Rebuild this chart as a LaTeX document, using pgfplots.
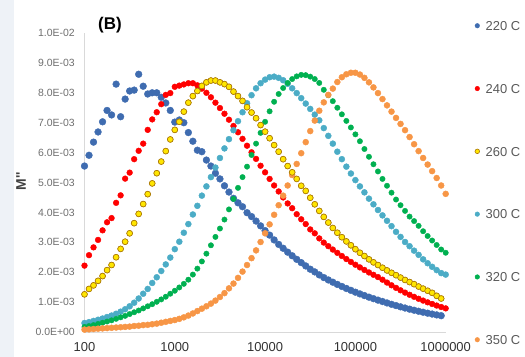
\documentclass[border=0pt]{standalone}
\usepackage{pgfplots}
\pgfplotsset{compat=1.18}
\usepackage{pgfplotstable}
\usepackage{fontspec}
\setmainfont{Liberation Sans}
\definecolor{cB}{RGB}{63,108,176}
\definecolor{cR}{RGB}{255,0,0}
\definecolor{cY}{RGB}{255,230,0}
\definecolor{cYe}{RGB}{170,120,10}
\definecolor{cL}{RGB}{75,172,198}
\definecolor{cG}{RGB}{0,176,80}
\definecolor{cO}{RGB}{247,150,70}
\definecolor{axc}{RGB}{217,217,217}
\definecolor{ylabc}{RGB}{110,110,110}
\definecolor{xlabc}{RGB}{50,50,50}
\definecolor{legc}{RGB}{89,89,89}
\definecolor{stripc}{RGB}{238,242,247}
% values of M'' in units of 1E-03
\pgfplotstableread{
f b r y lb g o
100 5.55 2.22 1.26 0.30 0.17 0.08
112.2 5.91 2.57 1.44 0.33 0.20 0.09
125.9 6.35 2.83 1.56 0.37 0.23 0.10
141.3 6.69 3.08 1.71 0.41 0.27 0.11
158.5 7.03 3.40 1.87 0.45 0.31 0.12
177.8 7.41 3.67 2.07 0.50 0.35 0.13
199.5 7.26 3.81 2.24 0.55 0.39 0.14
223.9 8.29 4.32 2.50 0.61 0.44 0.15
251.2 7.20 4.57 2.78 0.68 0.49 0.16
281.8 7.79 5.13 3.02 0.76 0.54 0.17
316.2 8.06 5.33 3.30 0.86 0.60 0.18
354.8 8.09 5.78 3.64 0.98 0.66 0.20
398.1 8.62 6.06 3.95 1.12 0.72 0.21
446.7 8.22 6.30 4.28 1.28 0.79 0.23
501.2 7.96 6.76 4.61 1.44 0.86 0.24
562.3 8.00 7.11 4.97 1.64 0.93 0.26
631 8.00 7.35 5.31 1.83 1.01 0.28
707.9 7.85 7.62 5.70 2.04 1.09 0.31
794.3 7.66 7.93 6.05 2.26 1.18 0.34
891.3 7.41 7.99 6.44 2.49 1.28 0.37
1000 7.02 8.20 6.76 2.77 1.38 0.40
1122 7.09 8.24 7.03 3.02 1.49 0.44
1259 7.00 8.28 7.37 3.32 1.61 0.49
1413 6.67 8.32 7.67 3.61 1.75 0.55
1585 6.38 8.32 7.89 3.93 1.92 0.62
1778 6.08 8.25 8.06 4.22 2.12 0.70
1995 6.03 8.14 8.23 4.56 2.36 0.78
2239 5.75 8.00 8.35 4.87 2.62 0.86
2512 5.55 7.85 8.41 5.18 2.90 0.95
2818 5.31 7.67 8.41 5.50 3.18 1.05
3162 5.12 7.49 8.35 5.82 3.46 1.17
3548 4.89 7.30 8.29 6.14 3.76 1.30
3981 4.68 7.10 8.20 6.45 4.10 1.46
4467 4.47 6.89 8.04 6.75 4.45 1.62
5012 4.32 6.68 7.89 7.05 4.82 1.81
5623 4.19 6.46 7.73 7.35 5.18 2.02
6310 3.99 6.23 7.52 7.65 5.53 2.24
7079 3.86 6.01 7.34 7.92 5.92 2.47
7943 3.71 5.79 7.15 8.15 6.30 2.73
8913 3.55 5.56 6.92 8.32 6.66 3.01
10000 3.39 5.34 6.70 8.44 7.03 3.30
11220 3.24 5.12 6.48 8.52 7.38 3.60
12590 3.08 4.90 6.25 8.54 7.70 3.92
14130 2.93 4.70 6.03 8.50 7.96 4.24
15850 2.80 4.50 5.78 8.42 8.16 4.56
17780 2.67 4.30 5.55 8.30 8.33 4.90
19950 2.55 4.14 5.34 8.15 8.46 5.25
22390 2.43 3.94 5.12 7.99 8.55 5.62
25120 2.32 3.77 4.89 7.82 8.60 5.98
28180 2.21 3.61 4.72 7.64 8.59 6.35
31620 2.10 3.43 4.49 7.46 8.54 6.72
35480 2.01 3.30 4.27 7.27 8.46 7.07
39810 1.91 3.13 4.05 7.08 8.33 7.40
44670 1.82 2.99 3.85 6.82 8.10 7.68
50120 1.741 2.871 3.66 6.56 7.92 7.93
56230 1.665 2.757 3.48 6.30 7.72 8.14
63100 1.592 2.647 3.32 6.03 7.50 8.36
70790 1.523 2.542 3.17 5.78 7.28 8.52
79430 1.456 2.441 3.03 5.53 7.06 8.62
89130 1.393 2.344 2.90 5.30 6.84 8.67
100000 1.332 2.250 2.77 5.08 6.61 8.67
112200 1.274 2.161 2.65 4.87 6.38 8.61
125900 1.219 2.075 2.54 4.67 6.12 8.50
141300 1.165 1.992 2.43 4.46 5.86 8.35
158500 1.115 1.913 2.33 4.27 5.61 8.18
177800 1.066 1.837 2.24 4.08 5.37 7.99
199500 1.020 1.750 2.15 3.90 5.12 7.79
223900 0.972 1.653 2.06 3.72 4.89 7.58
251200 0.926 1.562 1.98 3.54 4.66 7.37
281800 0.883 1.476 1.90 3.35 4.43 7.16
316200 0.841 1.394 1.82 3.18 4.24 6.96
354800 0.802 1.317 1.74 3.01 4.05 6.75
398100 0.764 1.245 1.67 2.87 3.86 6.52
446700 0.728 1.176 1.60 2.72 3.71 6.28
501200 0.694 1.111 1.52 2.58 3.55 6.05
562300 0.661 1.050 1.45 2.43 3.37 5.82
631000 0.630 0.992 1.38 2.30 3.21 5.60
707900 0.600 0.937 1.31 2.18 3.06 5.38
794300 0.572 0.885 1.21 2.07 2.91 5.15
891300 0.545 0.836 1.12 1.97 2.76 4.90
1000000 nan 0.790 nan 1.92 2.65 4.62
}\datatable

\begin{document}
\begin{tikzpicture}
\useasboundingbox (0,0) rectangle (525bp,357bp);
\fill[stripc] (0,0) rectangle (14bp,357bp);
\begin{axis}[
  at={(84.5bp,25bp)}, anchor=south west,
  scale only axis, width=361.2bp, height=299bp,
  xmode=log, xmin=100, xmax=1000000, ymin=0, ymax=10,
  axis lines=left, axis line style={-, draw=axc, line width=0.8bp},
  xtick={100,1000,10000,100000,1000000},
  xticklabels={100,1000,10000,100000,1000000},
  ytick={0,1,2,3,4,5,6,7,8,9,10},
  yticklabels={0.0E+00,1.0E-03,2.0E-03,3.0E-03,4.0E-03,5.0E-03,6.0E-03,7.0E-03,8.0E-03,9.0E-03,1.0E-02},
  xminorticks=false, yminorticks=false,
  major tick length=0pt, tick style={draw=none},
  xticklabel style={font=\fontsize{13}{13}\selectfont, text=xlabc, inner sep=0pt, anchor=north, yshift=-10.5bp},
  yticklabel style={font=\fontsize{10.5}{10.5}\selectfont, text=ylabc, inner sep=0pt, anchor=east, xshift=-9.5bp},
  clip=false,
  legend cell align=left,
  legend image code/.code={\draw[#1, mark size=2.3bp] plot coordinates {(0bp,0bp)};},
  legend style={at={(1.0811,1.04)}, anchor=north west, draw=none, fill=none,
    inner sep=0pt, outer sep=0pt, row sep=53.4bp, column sep=6.1bp,
    font=\fontsize{13}{13}\selectfont, text=legc,
    nodes={inner sep=0pt, text height=9.4bp, text depth=0bp}},
]
\addplot[only marks, mark=*, mark size=3.4bp, color=cB] table[x=f,y=b]{\datatable};
\addlegendentry{220 C}
\addplot[only marks, mark=*, mark size=2.9bp, color=cR] table[x=f,y=r]{\datatable};
\addlegendentry{240 C}
\addplot[only marks, mark=*, mark size=2.9bp, color=cYe, mark options={fill=cY, line width=0.6bp}] table[x=f,y=y]{\datatable};
\addlegendentry{260 C}
\addplot[only marks, mark=*, mark size=3.0bp, color=cL] table[x=f,y=lb]{\datatable};
\addlegendentry{300 C}
\addplot[only marks, mark=*, mark size=2.7bp, color=cG] table[x=f,y=g]{\datatable};
\addlegendentry{320 C}
\addplot[only marks, mark=*, mark size=3.0bp, color=cO] table[x=f,y=o]{\datatable};
\addlegendentry{350 C}
\addplot[forget plot, only marks, mark=*, mark size=2.9bp, color=cYe, mark options={fill=cY, line width=0.6bp}] table[x=f,y=y]{\datatable};
\end{axis}
\node[font=\bfseries\fontsize{17}{17}\selectfont, text=black] at (110bp,332bp) {(B)};
\node[rotate=90, font=\bfseries\fontsize{14}{14}\selectfont, text={rgb,255:red,64;green,64;blue,64}] at (21bp,176bp) {M\textquotesingle\textquotesingle};
\end{tikzpicture}
\end{document}
